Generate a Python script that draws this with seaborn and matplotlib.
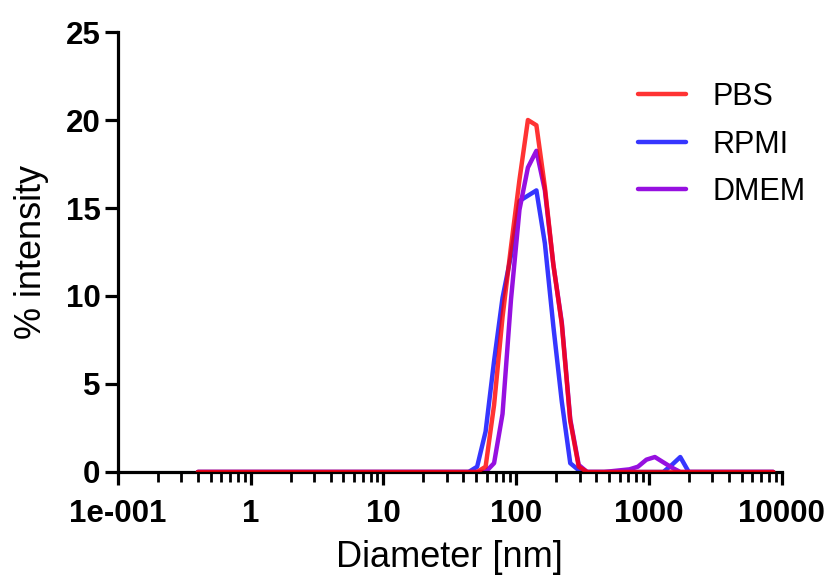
import matplotlib
matplotlib.use("Agg")
import matplotlib.pyplot as plt
import matplotlib.ticker as mticker
import numpy as np
import pandas as pd
import seaborn as sns

# Size classes (nm) of the DLS intensity distribution
diameter_nm = [
    0.4, 0.4632, 0.5365, 0.6213, 0.7195, 0.8332, 0.9649, 1.117, 1.294, 1.499,
    1.736, 2.010, 2.328, 2.696, 3.122, 3.615, 4.187, 4.849, 5.615, 6.503,
    7.531, 8.721, 10.10, 11.70, 13.54, 15.69, 18.17, 21.04, 24.36, 28.21,
    32.67, 37.84, 43.82, 50.75, 58.77, 68.06, 78.82, 91.28, 105.7, 122.4,
    141.8, 164.2, 190.1, 220.2, 255.0, 295.3, 342.0, 396.1, 458.7, 531.2,
    615.1, 712.4, 825.0, 955.4, 1106, 1281, 1484, 1718, 1990, 2305,
    2669, 3091, 3580, 4145, 4801, 5560, 6439, 7456, 8635,
]

# % intensity per size class
pbs = [
    0, 0, 0, 0, 0, 0, 0, 0, 0, 0,
    0, 0, 0, 0, 0, 0, 0, 0, 0, 0,
    0, 0, 0, 0, 0, 0, 0, 0, 0, 0,
    0, 0, 0, 0, 0.3, 3.8, 8.8, 12.8, 16.6, 20.0,
    19.7, 16.2, 11.8, 8.4, 2.9, 0.3, 0, 0, 0, 0,
    0, 0, 0, 0, 0, 0, 0, 0, 0, 0,
    0, 0, 0, 0, 0, 0, 0, 0, 0,
]
rpmi = [
    0, 0, 0, 0, 0, 0, 0, 0, 0, 0,
    0, 0, 0, 0, 0, 0, 0, 0, 0, 0,
    0, 0, 0, 0, 0, 0, 0, 0, 0, 0,
    0, 0, 0, 0.3, 2.3, 6.3, 9.9, 12.3, 15.4, 15.7,
    16.0, 13.0, 8.3, 4.0, 0.5, 0.1, 0, 0, 0, 0,
    0, 0, 0, 0, 0, 0, 0.4, 0.85, 0, 0,
    0, 0, 0, 0, 0, 0, 0, 0, 0,
]
dmem = [
    0, 0, 0, 0, 0, 0, 0, 0, 0, 0,
    0, 0, 0, 0, 0, 0, 0, 0, 0, 0,
    0, 0, 0, 0, 0, 0, 0, 0, 0, 0,
    0, 0, 0, 0, 0, 0.5, 3.3, 9.8, 14.9, 17.3,
    18.25, 16.0, 11.8, 8.5, 3.0, 0.4, 0, 0, 0, 0.05,
    0.1, 0.15, 0.3, 0.7, 0.85, 0.55, 0.25, 0, 0, 0,
    0, 0, 0, 0, 0, 0, 0, 0, 0,
]

media = ["PBS", "RPMI", "DMEM"]
colors = {"PBS": "#ff0000", "RPMI": "#3636ff", "DMEM": "#9610e0"}

x_tick_values = [0.1, 1, 10, 100, 1000, 10000]
x_tick_labels = ["1e-001", "1", "10", "100", "1000", "10000"]
y_tick_values = [0, 5, 10, 15, 20, 25]

df = pd.concat(
    [
        pd.DataFrame({"Diameter": diameter_nm, "Intensity": vals, "Medium": name})
        for name, vals in zip(media, [pbs, rpmi, dmem])
    ],
    ignore_index=True,
)

sns.set_style("ticks")
plt.rcParams["font.family"] = ["Liberation Sans", "DejaVu Sans"]
plt.rcParams["text.color"] = "black"
plt.rcParams["axes.labelcolor"] = "black"
plt.rcParams["xtick.color"] = "black"
plt.rcParams["ytick.color"] = "black"

fig = plt.figure(figsize=(8.3, 5.76), dpi=100)
ax = fig.add_axes([0.142, 0.1806, 0.800, 0.7638])

# RPMI and DMEM underneath, translucent PBS drawn last
for name in ["RPMI", "DMEM", "PBS"]:
    sub = df[df["Medium"] == name]
    sns.lineplot(
        data=sub, x="Diameter", y="Intensity", ax=ax,
        color=colors[name], lw=3.2, label=name,
        alpha=0.8 if name == "PBS" else 1.0, zorder=3 if name == "PBS" else 2,
    )

ax.set_xscale("log")
ax.set_xlim(0.1, 10000)
ax.set_ylim(0, 25)

ax.xaxis.set_major_locator(mticker.FixedLocator(x_tick_values))
ax.xaxis.set_major_formatter(mticker.FixedFormatter(x_tick_labels))
ax.xaxis.set_minor_locator(mticker.LogLocator(base=10, subs=np.arange(2, 10), numticks=20))
ax.xaxis.set_minor_formatter(mticker.NullFormatter())
ax.yaxis.set_major_locator(mticker.FixedLocator(y_tick_values))

for side in ["top", "right"]:
    ax.spines[side].set_visible(False)
for side in ["left", "bottom"]:
    ax.spines[side].set_linewidth(2.3)
    ax.spines[side].set_color("black")

ax.tick_params(axis="both", which="major", length=9.5, width=2.3, labelsize=22.5)
ax.tick_params(axis="x", which="major", pad=10)
ax.tick_params(axis="y", which="major", pad=3)
ax.tick_params(axis="x", which="minor", length=7, width=2.0)
for lab in ax.get_xticklabels() + ax.get_yticklabels():
    lab.set_fontweight("bold")

ax.set_xlabel("Diameter [nm]", fontsize=26, labelpad=8)
ax.set_ylabel("% intensity", fontsize=26, labelpad=12)

# legend entries in PBS, RPMI, DMEM order
handles, labels = ax.get_legend_handles_labels()
order = [labels.index(m) for m in media]
leg = ax.legend(
    [handles[i] for i in order], [labels[i] for i in order],
    loc="upper left", bbox_to_anchor=(0.783, 0.886), frameon=False,
    fontsize=22, handlelength=1.57, handletextpad=0.88, labelspacing=0.57,
    borderpad=0, borderaxespad=0,
)
for line in leg.get_lines():
    line.set_linewidth(3.2)

fig.savefig("out.png", dpi=100)
